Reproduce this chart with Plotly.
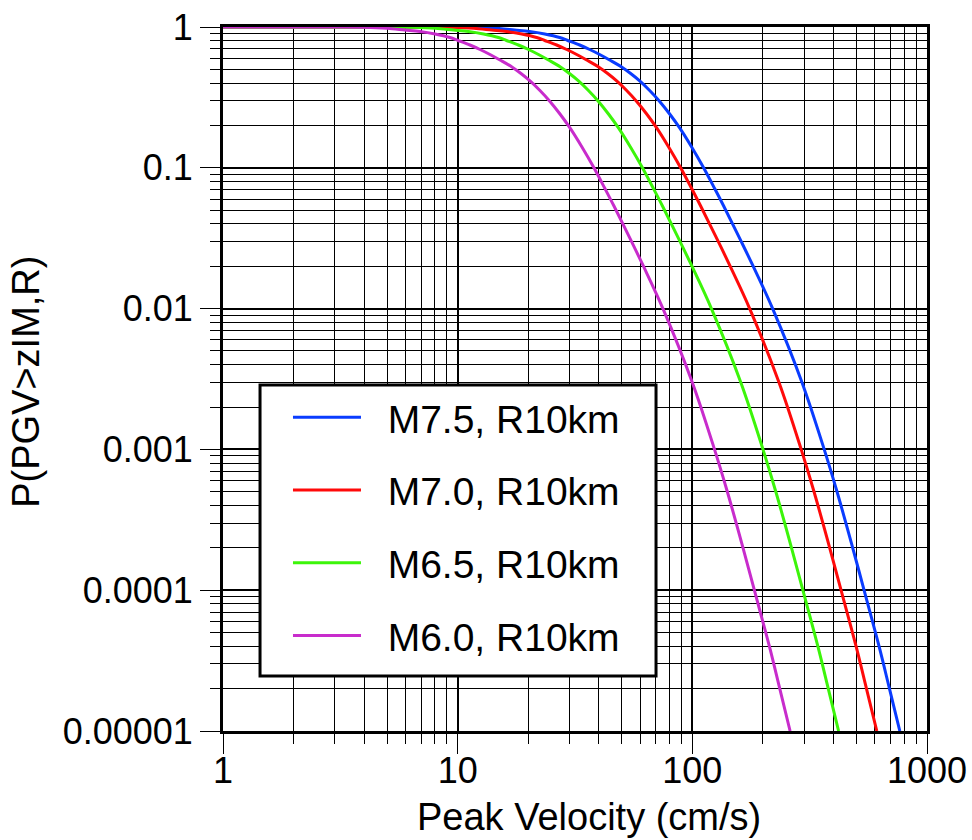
import plotly.graph_objects as go

# Exceedance probability P(PGV > z | M, R=10 km).
# Probability levels shared by the readings below.
prob = [1.0, 0.999, 0.995, 0.979, 0.952, 0.929, 0.892, 0.842, 0.802, 0.745, 0.692,
        0.638, 0.583, 0.520, 0.467, 0.414, 0.354, 0.296, 0.241, 0.192, 0.1405,
        0.1, 0.0712, 0.0535, 0.03, 0.02, 0.01, 0.003, 0.001, 5e-4, 2e-4,
        1e-4, 4e-5, 2e-5, 1e-5]

# Peak velocity (cm/s) at which each curve reaches the levels above
pgv_m60 = [1, 3.00, 3.99, 5.00, 5.96, 6.91, 8.01, 9.27, 10.03, 11.28, 12.45,
           13.73, 15.14, 17.03, 18.61, 20.33, 22.42, 24.74, 27.29, 30.10, 33.85,
           38.08, 42.42, 46.35, 55.04, 61.89, 74.95, 99.9, 124.3, 141.0, 164.4,
           183.8, 212.9, 235.8, 261.0]
pgv_m65 = [1, 4.83, 6.42, 8.05, 9.59, 11.12, 12.89, 14.92, 16.14, 18.15, 20.04,
           22.10, 24.37, 27.41, 29.95, 32.72, 36.08, 39.82, 43.92, 48.44, 54.48,
           61.29, 68.27, 74.60, 88.58, 99.61, 120.6, 160.8, 200.0, 226.9, 264.6,
           295.8, 342.6, 379.5, 420.1]
pgv_m70 = [1, 7.02, 9.34, 11.71, 13.95, 16.18, 18.75, 21.70, 23.48, 26.41, 29.15,
           32.15, 35.45, 39.87, 43.57, 47.60, 52.49, 57.93, 63.90, 70.48, 79.26,
           89.16, 99.32, 108.5, 128.9, 144.9, 175.5, 233.9, 291.0, 330.1, 384.9,
           430.3, 498.5, 552.1, 611.1]
pgv_m75 = [1, 8.80, 11.71, 14.67, 17.49, 20.27, 23.50, 27.20, 29.43, 33.10, 36.53,
           40.28, 44.42, 49.97, 54.60, 59.65, 65.78, 72.59, 80.07, 88.31, 99.32,
           111.7, 124.5, 136.0, 161.5, 181.6, 219.9, 293.1, 364.7, 413.7, 482.3,
           539.3, 624.6, 691.8, 765.8]

names = ["M7.5, R10km", "M7.0, R10km", "M6.5, R10km", "M6.0, R10km"]
curves = [pgv_m75, pgv_m70, pgv_m65, pgv_m60]
colors = ["#0a3cff", "#ff0a0a", "#3cf50a", "#c82ccc"]

x_major = [1, 10, 100, 1000]
x_major_text = ["1", "10", "100", "1000"]
y_major = [1e-5, 1e-4, 1e-3, 1e-2, 1e-1, 1]
y_major_text = ["0.00001", "0.0001", "0.001", "0.01", "0.1", "1"]
x_minor = [m * 10 ** d for d in range(0, 3) for m in range(2, 10)]
y_minor = [m * 10.0 ** d for d in range(-5, 0) for m in range(2, 10)]

font_family = "Liberation Sans, Arial, Helvetica, sans-serif"
nbsp = "\u00a0"

fig = go.Figure()
for i, (name, xs, color) in enumerate(zip(names, curves, colors)):
    fig.add_trace(go.Scatter(
        x=xs, y=prob, mode="lines", name=nbsp * 2 + name,
        line=dict(color=color, width=3, shape="spline", smoothing=1.0),
        legendgroup=f"g{i}",
    ))

axis_common = dict(
    type="log", automargin=False, layer="below traces",
    showline=True, linecolor="black", linewidth=3, mirror=True,
    showgrid=True, gridcolor="black", gridwidth=2,
    ticks="outside", ticklen=20, tickwidth=1, tickcolor="black",
    tickfont=dict(family=font_family, size=36, color="black"),
    zeroline=False,
)

fig.update_xaxes(
    **axis_common,
    range=[0, 3],
    tickmode="array", tickvals=x_major, ticktext=x_major_text,
    ticklabelstandoff=-14,
    minor=dict(tickmode="array", tickvals=x_minor, ticks="outside", ticklen=10,
               tickwidth=1, tickcolor="black", showgrid=True, gridcolor="black", gridwidth=1),
)
fig.update_yaxes(
    **axis_common,
    range=[-5, 0],
    tickmode="array", tickvals=y_major, ticktext=y_major_text,
    minor=dict(tickmode="array", tickvals=y_minor, ticks="outside", ticklen=10,
               tickwidth=1, tickcolor="black", showgrid=True, gridcolor="black", gridwidth=1),
)

title_font = dict(family=font_family, size=38, color="black")
fig.add_annotation(
    text="Peak Velocity (cm/s)", xref="paper", yref="paper",
    x=0.52, y=-0.1222, xanchor="center", yanchor="middle", showarrow=False,
    font=title_font,
)
fig.add_annotation(
    text="P(PGV>zIM,R)", xref="paper", yref="paper",
    x=-0.2798, y=0.496, xanchor="center", yanchor="middle", showarrow=False,
    textangle=-90, font=title_font,
)

# Legend frame
fig.add_shape(
    type="rect", xref="paper", yref="paper",
    x0=0.0526, x1=0.6151, y0=0.0781, y1=0.4915,
    line=dict(color="black", width=3), fillcolor="white", layer="above",
)

fig.update_layout(
    width=972, height=840,
    margin=dict(l=223, r=45, t=27, b=109),
    paper_bgcolor="white", plot_bgcolor="white",
    showlegend=True,
    legend=dict(
        x=0.0923, y=0.4908, xanchor="left", yanchor="top",
        bgcolor="rgba(0,0,0,0)", borderwidth=0,
        font=dict(family=font_family, size=39, color="black"),
        tracegroupgap=19, itemwidth=68,
    ),
)

fig.write_html("out.html")
